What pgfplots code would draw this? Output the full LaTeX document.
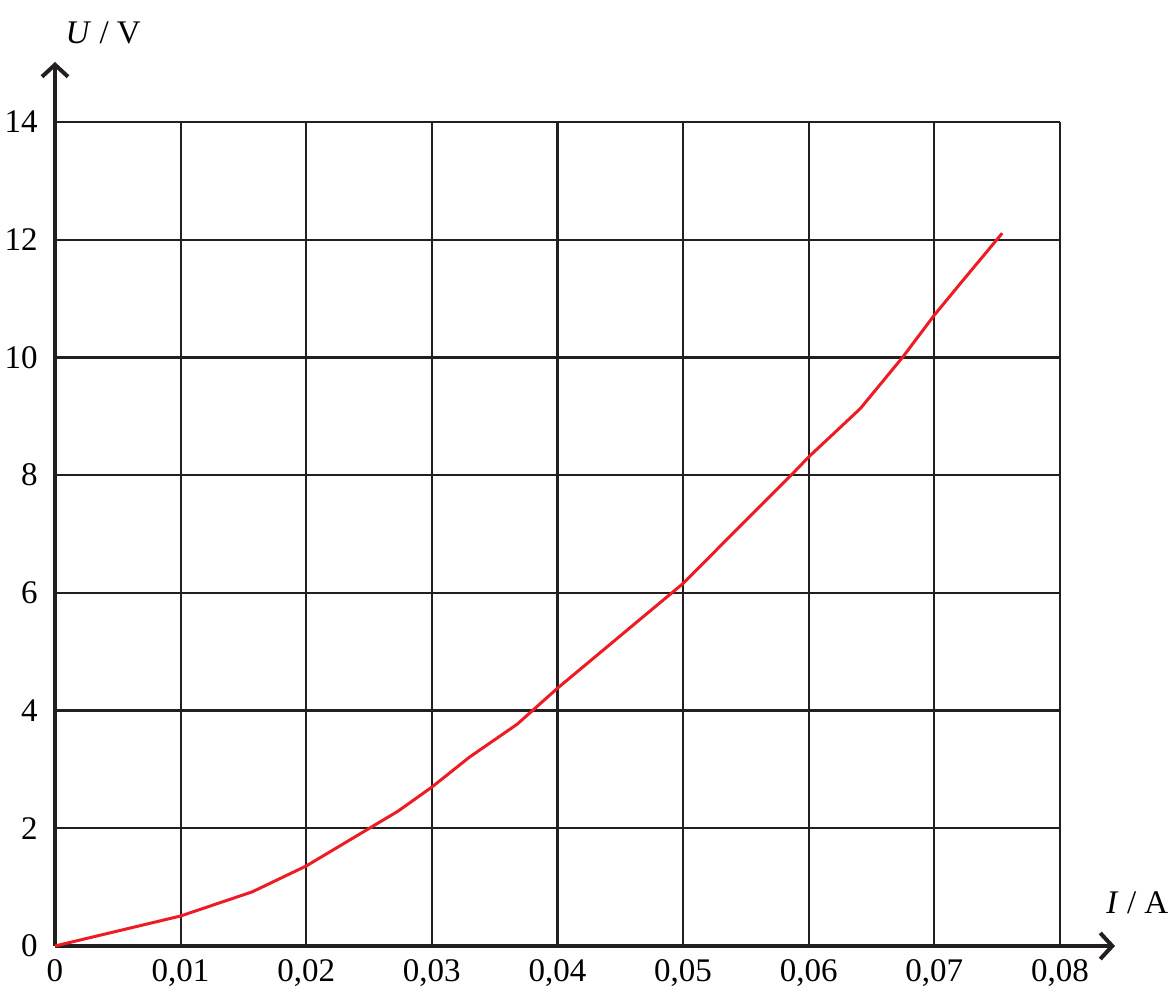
\documentclass[border=0pt]{standalone}
\usepackage{pgfplots}
\pgfplotsset{compat=1.18}
\usepackage{fontspec}
\setmainfont{Liberation Serif}
\usetikzlibrary{arrows.meta}
\definecolor{curvered}{RGB}{237,28,36}
\definecolor{gridblack}{RGB}{35,31,32}

\begin{document}
\fontsize{16.5}{19}\selectfont
\begin{tikzpicture}
	\begin{axis}[
		at={(0,0)}, anchor=south west,
		scale only axis,
		width=502.5pt, height=412pt,
		xmin=0, xmax=0.08, ymin=0, ymax=14,
		axis lines=left,
		axis line style={line width=2pt, color=gridblack},
		x axis line style={-{Straight Barb[length=6pt, width=13pt, line width=2pt]}, shorten >=-27.5pt},
		y axis line style={-{Straight Barb[length=6pt, width=13pt, line width=2pt]}, shorten >=-30pt},
		grid=major,
		grid style={line width=1.1pt, color=gridblack},
		major tick length=0pt,
		xtick={0,0.01,0.02,0.03,0.04,0.05,0.06,0.07,0.08},
		xticklabels={0,{0,01},{0,02},{0,03},{0,04},{0,05},{0,06},{0,07},{0,08}},
		ytick={0,2,4,6,8,10,12,14},
		yticklabels={0,2,4,6,8,10,12,14},
		xticklabel style={inner sep=0.5pt, yshift=-6pt},
		yticklabel style={xshift=-3pt},
		ylabel={\textit{U} / V},
		ylabel style={at={(axis description cs:0.048,1.108)}, rotate=-90, anchor=center},
		xlabel={\textit{I} / A},
		xlabel style={at={(axis description cs:1.077,0.053)}, anchor=center},
		clip=false,
	]
	\addplot[color=curvered, line width=1.5pt, mark=none] coordinates {
		(0,0)
		(0.01,0.51)
		(0.0157,0.92)
		(0.02,1.36)
		(0.0273,2.29)
		(0.03,2.70)
		(0.033,3.21)
		(0.0368,3.77)
		(0.04,4.38)
		(0.05,6.16)
		(0.0541,7.04)
		(0.0586,8.00)
		(0.06,8.31)
		(0.0641,9.13)
		(0.0675,10.01)
		(0.07,10.72)
		(0.0722,11.29)
		(0.0754,12.11)
	};
	\end{axis}
	\pgfresetboundingbox
	\path[use as bounding box] (-27.5pt,-25pt) rectangle (558pt,473pt);
\end{tikzpicture}
\end{document}
